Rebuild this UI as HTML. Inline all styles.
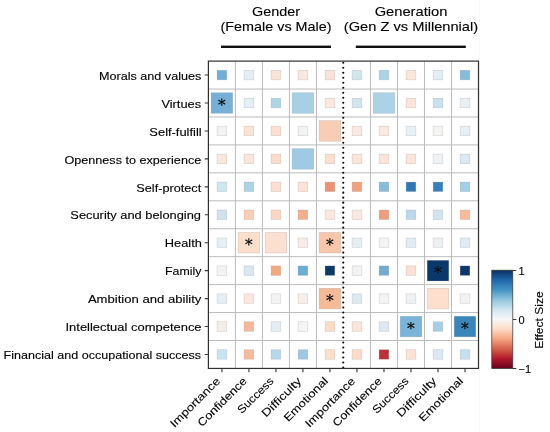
<!DOCTYPE html>
<html><head><meta charset="utf-8"><style>
html,body{margin:0;padding:0;background:#fff;}
#wrap{position:absolute;left:0;top:0;width:550px;height:432px;filter:blur(0.35px);}
body{width:550px;height:432px;position:relative;overflow:hidden;font-family:"Liberation Sans",sans-serif;color:#000;-webkit-text-stroke:0.12px #000;}
.a{position:absolute;}
svg.a{left:0;top:0;}
.yl{position:absolute;right:348.7px;white-space:nowrap;font-size:11px;line-height:14px;height:14px;text-align:right;transform-origin:100% 50%;}
.xw{position:absolute;width:0;height:0;}
.xl{position:absolute;right:0;top:0;white-space:nowrap;font-size:11px;line-height:14px;transform-origin:100% 0;}
.tt{position:absolute;white-space:nowrap;font-size:12.6px;line-height:16px;text-align:center;width:200px;}
</style></head><body><div id="wrap">

<svg class="a" width="550" height="432" viewBox="0 0 550 432"><line x1="479.5" y1="0" x2="479.5" y2="432" stroke="#f9f9f9" stroke-width="1.2"/><line x1="235.41" y1="61.10" x2="235.41" y2="368.44" stroke="#bcbcbc" stroke-width="1"/><line x1="262.42" y1="61.10" x2="262.42" y2="368.44" stroke="#bcbcbc" stroke-width="1"/><line x1="289.43" y1="61.10" x2="289.43" y2="368.44" stroke="#bcbcbc" stroke-width="1"/><line x1="316.44" y1="61.10" x2="316.44" y2="368.44" stroke="#bcbcbc" stroke-width="1"/><line x1="370.46" y1="61.10" x2="370.46" y2="368.44" stroke="#bcbcbc" stroke-width="1"/><line x1="397.47" y1="61.10" x2="397.47" y2="368.44" stroke="#bcbcbc" stroke-width="1"/><line x1="424.48" y1="61.10" x2="424.48" y2="368.44" stroke="#bcbcbc" stroke-width="1"/><line x1="451.49" y1="61.10" x2="451.49" y2="368.44" stroke="#bcbcbc" stroke-width="1"/><line x1="208.40" y1="89.04" x2="478.50" y2="89.04" stroke="#bcbcbc" stroke-width="1"/><line x1="208.40" y1="116.98" x2="478.50" y2="116.98" stroke="#bcbcbc" stroke-width="1"/><line x1="208.40" y1="144.92" x2="478.50" y2="144.92" stroke="#bcbcbc" stroke-width="1"/><line x1="208.40" y1="172.86" x2="478.50" y2="172.86" stroke="#bcbcbc" stroke-width="1"/><line x1="208.40" y1="200.80" x2="478.50" y2="200.80" stroke="#bcbcbc" stroke-width="1"/><line x1="208.40" y1="228.74" x2="478.50" y2="228.74" stroke="#bcbcbc" stroke-width="1"/><line x1="208.40" y1="256.68" x2="478.50" y2="256.68" stroke="#bcbcbc" stroke-width="1"/><line x1="208.40" y1="284.62" x2="478.50" y2="284.62" stroke="#bcbcbc" stroke-width="1"/><line x1="208.40" y1="312.56" x2="478.50" y2="312.56" stroke="#bcbcbc" stroke-width="1"/><line x1="208.40" y1="340.50" x2="478.50" y2="340.50" stroke="#bcbcbc" stroke-width="1"/><rect x="217.06" y="70.32" width="9.70" height="9.50" fill="#6eaed8" stroke="rgba(140,140,140,0.35)" stroke-width="0.6"/><rect x="244.07" y="70.32" width="9.70" height="9.50" fill="#e4eef5" stroke="rgba(140,140,140,0.35)" stroke-width="0.6"/><rect x="271.07" y="70.32" width="9.70" height="9.50" fill="#fbe3d6" stroke="rgba(140,140,140,0.35)" stroke-width="0.6"/><rect x="298.08" y="70.32" width="9.70" height="9.50" fill="#fae8dd" stroke="rgba(140,140,140,0.35)" stroke-width="0.6"/><rect x="325.09" y="70.32" width="9.70" height="9.50" fill="#fae3d6" stroke="rgba(140,140,140,0.35)" stroke-width="0.6"/><rect x="352.11" y="70.32" width="9.70" height="9.50" fill="#d2e6ef" stroke="rgba(140,140,140,0.35)" stroke-width="0.6"/><rect x="379.12" y="70.32" width="9.70" height="9.50" fill="#abd2e6" stroke="rgba(140,140,140,0.35)" stroke-width="0.6"/><rect x="406.12" y="70.32" width="9.70" height="9.50" fill="#fbe6dc" stroke="rgba(140,140,140,0.35)" stroke-width="0.6"/><rect x="433.13" y="70.32" width="9.70" height="9.50" fill="#e2edf4" stroke="rgba(140,140,140,0.35)" stroke-width="0.6"/><rect x="460.14" y="70.32" width="9.70" height="9.50" fill="#85bcdb" stroke="rgba(140,140,140,0.35)" stroke-width="0.6"/><rect x="211.10" y="92.71" width="21.60" height="20.60" fill="#74b0d7" stroke="rgba(140,140,140,0.35)" stroke-width="0.6"/><rect x="244.07" y="98.26" width="9.70" height="9.50" fill="#e4eef5" stroke="rgba(140,140,140,0.35)" stroke-width="0.6"/><rect x="271.07" y="98.26" width="9.70" height="9.50" fill="#aed5e7" stroke="rgba(140,140,140,0.35)" stroke-width="0.6"/><rect x="292.13" y="92.71" width="21.60" height="20.60" fill="#a8d0e5" stroke="rgba(140,140,140,0.35)" stroke-width="0.6"/><rect x="325.09" y="98.26" width="9.70" height="9.50" fill="#fbe8df" stroke="rgba(140,140,140,0.35)" stroke-width="0.6"/><rect x="352.11" y="98.26" width="9.70" height="9.50" fill="#d1e5f0" stroke="rgba(140,140,140,0.35)" stroke-width="0.6"/><rect x="373.17" y="92.71" width="21.60" height="20.60" fill="#acd2e6" stroke="rgba(140,140,140,0.35)" stroke-width="0.6"/><rect x="406.12" y="98.26" width="9.70" height="9.50" fill="#fbe5db" stroke="rgba(140,140,140,0.35)" stroke-width="0.6"/><rect x="433.13" y="98.26" width="9.70" height="9.50" fill="#cae0ee" stroke="rgba(140,140,140,0.35)" stroke-width="0.6"/><rect x="460.14" y="98.26" width="9.70" height="9.50" fill="#e9f0f4" stroke="rgba(140,140,140,0.35)" stroke-width="0.6"/><rect x="217.06" y="126.20" width="9.70" height="9.50" fill="#f3f3f3" stroke="rgba(140,140,140,0.35)" stroke-width="0.6"/><rect x="244.07" y="126.20" width="9.70" height="9.50" fill="#fbe3d6" stroke="rgba(140,140,140,0.35)" stroke-width="0.6"/><rect x="271.07" y="126.20" width="9.70" height="9.50" fill="#fde0cf" stroke="rgba(140,140,140,0.35)" stroke-width="0.6"/><rect x="298.08" y="126.20" width="9.70" height="9.50" fill="#f3f3f3" stroke="rgba(140,140,140,0.35)" stroke-width="0.6"/><rect x="319.14" y="120.65" width="21.60" height="20.60" fill="#f9cdb5" stroke="rgba(140,140,140,0.35)" stroke-width="0.6"/><rect x="352.11" y="126.20" width="9.70" height="9.50" fill="#fbe8df" stroke="rgba(140,140,140,0.35)" stroke-width="0.6"/><rect x="379.12" y="126.20" width="9.70" height="9.50" fill="#fbe9e0" stroke="rgba(140,140,140,0.35)" stroke-width="0.6"/><rect x="406.12" y="126.20" width="9.70" height="9.50" fill="#e8f0f5" stroke="rgba(140,140,140,0.35)" stroke-width="0.6"/><rect x="433.13" y="126.20" width="9.70" height="9.50" fill="#f4f4f3" stroke="rgba(140,140,140,0.35)" stroke-width="0.6"/><rect x="460.14" y="126.20" width="9.70" height="9.50" fill="#e7eff4" stroke="rgba(140,140,140,0.35)" stroke-width="0.6"/><rect x="217.06" y="154.14" width="9.70" height="9.50" fill="#fbe6dc" stroke="rgba(140,140,140,0.35)" stroke-width="0.6"/><rect x="244.07" y="154.14" width="9.70" height="9.50" fill="#fbe6dc" stroke="rgba(140,140,140,0.35)" stroke-width="0.6"/><rect x="271.07" y="154.14" width="9.70" height="9.50" fill="#fcdcc9" stroke="rgba(140,140,140,0.35)" stroke-width="0.6"/><rect x="292.13" y="148.59" width="21.60" height="20.60" fill="#9ecbe3" stroke="rgba(140,140,140,0.35)" stroke-width="0.6"/><rect x="325.09" y="154.14" width="9.70" height="9.50" fill="#fddfcb" stroke="rgba(140,140,140,0.35)" stroke-width="0.6"/><rect x="352.11" y="154.14" width="9.70" height="9.50" fill="#fbe5da" stroke="rgba(140,140,140,0.35)" stroke-width="0.6"/><rect x="379.12" y="154.14" width="9.70" height="9.50" fill="#fbe5da" stroke="rgba(140,140,140,0.35)" stroke-width="0.6"/><rect x="406.12" y="154.14" width="9.70" height="9.50" fill="#fbe5da" stroke="rgba(140,140,140,0.35)" stroke-width="0.6"/><rect x="433.13" y="154.14" width="9.70" height="9.50" fill="#eef2f5" stroke="rgba(140,140,140,0.35)" stroke-width="0.6"/><rect x="460.14" y="154.14" width="9.70" height="9.50" fill="#dce8f2" stroke="rgba(140,140,140,0.35)" stroke-width="0.6"/><rect x="217.06" y="182.08" width="9.70" height="9.50" fill="#cfe7ef" stroke="rgba(140,140,140,0.35)" stroke-width="0.6"/><rect x="244.07" y="182.08" width="9.70" height="9.50" fill="#acd2e6" stroke="rgba(140,140,140,0.35)" stroke-width="0.6"/><rect x="271.07" y="182.08" width="9.70" height="9.50" fill="#fcdfd0" stroke="rgba(140,140,140,0.35)" stroke-width="0.6"/><rect x="298.08" y="182.08" width="9.70" height="9.50" fill="#fbe3d6" stroke="rgba(140,140,140,0.35)" stroke-width="0.6"/><rect x="325.09" y="182.08" width="9.70" height="9.50" fill="#ed9270" stroke="rgba(140,140,140,0.35)" stroke-width="0.6"/><rect x="352.11" y="182.08" width="9.70" height="9.50" fill="#f0a27f" stroke="rgba(140,140,140,0.35)" stroke-width="0.6"/><rect x="379.12" y="182.08" width="9.70" height="9.50" fill="#86bcdc" stroke="rgba(140,140,140,0.35)" stroke-width="0.6"/><rect x="406.12" y="182.08" width="9.70" height="9.50" fill="#2f79b8" stroke="rgba(140,140,140,0.35)" stroke-width="0.6"/><rect x="433.13" y="182.08" width="9.70" height="9.50" fill="#3680bf" stroke="rgba(140,140,140,0.35)" stroke-width="0.6"/><rect x="460.14" y="182.08" width="9.70" height="9.50" fill="#a3cfe6" stroke="rgba(140,140,140,0.35)" stroke-width="0.6"/><rect x="217.06" y="210.02" width="9.70" height="9.50" fill="#d0e3ed" stroke="rgba(140,140,140,0.35)" stroke-width="0.6"/><rect x="244.07" y="210.02" width="9.70" height="9.50" fill="#f9cdb5" stroke="rgba(140,140,140,0.35)" stroke-width="0.6"/><rect x="271.07" y="210.02" width="9.70" height="9.50" fill="#fcd8c4" stroke="rgba(140,140,140,0.35)" stroke-width="0.6"/><rect x="298.08" y="210.02" width="9.70" height="9.50" fill="#f3b08f" stroke="rgba(140,140,140,0.35)" stroke-width="0.6"/><rect x="325.09" y="210.02" width="9.70" height="9.50" fill="#fbe8df" stroke="rgba(140,140,140,0.35)" stroke-width="0.6"/><rect x="352.11" y="210.02" width="9.70" height="9.50" fill="#fae9e2" stroke="rgba(140,140,140,0.35)" stroke-width="0.6"/><rect x="379.12" y="210.02" width="9.70" height="9.50" fill="#f09d7c" stroke="rgba(140,140,140,0.35)" stroke-width="0.6"/><rect x="406.12" y="210.02" width="9.70" height="9.50" fill="#bad9ea" stroke="rgba(140,140,140,0.35)" stroke-width="0.6"/><rect x="433.13" y="210.02" width="9.70" height="9.50" fill="#d2e5ee" stroke="rgba(140,140,140,0.35)" stroke-width="0.6"/><rect x="460.14" y="210.02" width="9.70" height="9.50" fill="#f8bb9c" stroke="rgba(140,140,140,0.35)" stroke-width="0.6"/><rect x="217.06" y="237.96" width="9.70" height="9.50" fill="#e8f0f5" stroke="rgba(140,140,140,0.35)" stroke-width="0.6"/><rect x="238.12" y="232.41" width="21.60" height="20.60" fill="#fddfcc" stroke="rgba(140,140,140,0.35)" stroke-width="0.6"/><rect x="265.12" y="232.41" width="21.60" height="20.60" fill="#fbdfd0" stroke="rgba(140,140,140,0.35)" stroke-width="0.6"/><rect x="298.08" y="237.96" width="9.70" height="9.50" fill="#f8ece6" stroke="rgba(140,140,140,0.35)" stroke-width="0.6"/><rect x="319.14" y="232.41" width="21.60" height="20.60" fill="#f8c7ab" stroke="rgba(140,140,140,0.35)" stroke-width="0.6"/><rect x="352.11" y="237.96" width="9.70" height="9.50" fill="#e6eef3" stroke="rgba(140,140,140,0.35)" stroke-width="0.6"/><rect x="379.12" y="237.96" width="9.70" height="9.50" fill="#f3f3f2" stroke="rgba(140,140,140,0.35)" stroke-width="0.6"/><rect x="406.12" y="237.96" width="9.70" height="9.50" fill="#e0edf4" stroke="rgba(140,140,140,0.35)" stroke-width="0.6"/><rect x="433.13" y="237.96" width="9.70" height="9.50" fill="#eef1f2" stroke="rgba(140,140,140,0.35)" stroke-width="0.6"/><rect x="460.14" y="237.96" width="9.70" height="9.50" fill="#e0ecf4" stroke="rgba(140,140,140,0.35)" stroke-width="0.6"/><rect x="217.06" y="265.90" width="9.70" height="9.50" fill="#f5f3f2" stroke="rgba(140,140,140,0.35)" stroke-width="0.6"/><rect x="244.07" y="265.90" width="9.70" height="9.50" fill="#dae7f0" stroke="rgba(140,140,140,0.35)" stroke-width="0.6"/><rect x="271.07" y="265.90" width="9.70" height="9.50" fill="#f4a880" stroke="rgba(140,140,140,0.35)" stroke-width="0.6"/><rect x="298.08" y="265.90" width="9.70" height="9.50" fill="#6aaed5" stroke="rgba(140,140,140,0.35)" stroke-width="0.6"/><rect x="325.09" y="265.90" width="9.70" height="9.50" fill="#0c3a6a" stroke="rgba(140,140,140,0.35)" stroke-width="0.6"/><rect x="352.11" y="265.90" width="9.70" height="9.50" fill="#f3f3f3" stroke="rgba(140,140,140,0.35)" stroke-width="0.6"/><rect x="379.12" y="265.90" width="9.70" height="9.50" fill="#74accf" stroke="rgba(140,140,140,0.35)" stroke-width="0.6"/><rect x="406.12" y="265.90" width="9.70" height="9.50" fill="#fbe1d3" stroke="rgba(140,140,140,0.35)" stroke-width="0.6"/><rect x="427.19" y="260.35" width="21.60" height="20.60" fill="#0b386a" stroke="rgba(140,140,140,0.35)" stroke-width="0.6"/><rect x="460.14" y="265.90" width="9.70" height="9.50" fill="#0d366a" stroke="rgba(140,140,140,0.35)" stroke-width="0.6"/><rect x="217.06" y="293.84" width="9.70" height="9.50" fill="#e6eef4" stroke="rgba(140,140,140,0.35)" stroke-width="0.6"/><rect x="244.07" y="293.84" width="9.70" height="9.50" fill="#fae6dc" stroke="rgba(140,140,140,0.35)" stroke-width="0.6"/><rect x="271.07" y="293.84" width="9.70" height="9.50" fill="#f3f3f3" stroke="rgba(140,140,140,0.35)" stroke-width="0.6"/><rect x="298.08" y="293.84" width="9.70" height="9.50" fill="#f7efe9" stroke="rgba(140,140,140,0.35)" stroke-width="0.6"/><rect x="319.14" y="288.29" width="21.60" height="20.60" fill="#f5ba96" stroke="rgba(140,140,140,0.35)" stroke-width="0.6"/><rect x="352.11" y="293.84" width="9.70" height="9.50" fill="#dce9f2" stroke="rgba(140,140,140,0.35)" stroke-width="0.6"/><rect x="379.12" y="293.84" width="9.70" height="9.50" fill="#f3f3f3" stroke="rgba(140,140,140,0.35)" stroke-width="0.6"/><rect x="406.12" y="293.84" width="9.70" height="9.50" fill="#eff2f4" stroke="rgba(140,140,140,0.35)" stroke-width="0.6"/><rect x="427.19" y="288.29" width="21.60" height="20.60" fill="#fedfcd" stroke="rgba(140,140,140,0.35)" stroke-width="0.6"/><rect x="460.14" y="293.84" width="9.70" height="9.50" fill="#f2f3f2" stroke="rgba(140,140,140,0.35)" stroke-width="0.6"/><rect x="217.06" y="321.78" width="9.70" height="9.50" fill="#f5ede8" stroke="rgba(140,140,140,0.35)" stroke-width="0.6"/><rect x="244.07" y="321.78" width="9.70" height="9.50" fill="#f5b89a" stroke="rgba(140,140,140,0.35)" stroke-width="0.6"/><rect x="271.07" y="321.78" width="9.70" height="9.50" fill="#e3eef4" stroke="rgba(140,140,140,0.35)" stroke-width="0.6"/><rect x="298.08" y="321.78" width="9.70" height="9.50" fill="#f3f4f3" stroke="rgba(140,140,140,0.35)" stroke-width="0.6"/><rect x="325.09" y="321.78" width="9.70" height="9.50" fill="#fcdcc6" stroke="rgba(140,140,140,0.35)" stroke-width="0.6"/><rect x="352.11" y="321.78" width="9.70" height="9.50" fill="#fbe4d9" stroke="rgba(140,140,140,0.35)" stroke-width="0.6"/><rect x="379.12" y="321.78" width="9.70" height="9.50" fill="#ddeaf3" stroke="rgba(140,140,140,0.35)" stroke-width="0.6"/><rect x="400.18" y="316.23" width="21.60" height="20.60" fill="#7ab4d8" stroke="rgba(140,140,140,0.35)" stroke-width="0.6"/><rect x="433.13" y="321.78" width="9.70" height="9.50" fill="#a8cde6" stroke="rgba(140,140,140,0.35)" stroke-width="0.6"/><rect x="454.19" y="316.23" width="21.60" height="20.60" fill="#3a86bb" stroke="rgba(140,140,140,0.35)" stroke-width="0.6"/><rect x="217.06" y="349.72" width="9.70" height="9.50" fill="#c7e4f0" stroke="rgba(140,140,140,0.35)" stroke-width="0.6"/><rect x="244.07" y="349.72" width="9.70" height="9.50" fill="#f5bb9c" stroke="rgba(140,140,140,0.35)" stroke-width="0.6"/><rect x="271.07" y="349.72" width="9.70" height="9.50" fill="#b6d8ea" stroke="rgba(140,140,140,0.35)" stroke-width="0.6"/><rect x="298.08" y="349.72" width="9.70" height="9.50" fill="#9fc8e4" stroke="rgba(140,140,140,0.35)" stroke-width="0.6"/><rect x="325.09" y="349.72" width="9.70" height="9.50" fill="#fde0cb" stroke="rgba(140,140,140,0.35)" stroke-width="0.6"/><rect x="352.11" y="349.72" width="9.70" height="9.50" fill="#fddbc8" stroke="rgba(140,140,140,0.35)" stroke-width="0.6"/><rect x="379.12" y="349.72" width="9.70" height="9.50" fill="#bf2f38" stroke="rgba(140,140,140,0.35)" stroke-width="0.6"/><rect x="406.12" y="349.72" width="9.70" height="9.50" fill="#fbe3d6" stroke="rgba(140,140,140,0.35)" stroke-width="0.6"/><rect x="433.13" y="349.72" width="9.70" height="9.50" fill="#dbe9f2" stroke="rgba(140,140,140,0.35)" stroke-width="0.6"/><rect x="460.14" y="349.72" width="9.70" height="9.50" fill="#c8e0ed" stroke="rgba(140,140,140,0.35)" stroke-width="0.6"/><path d="M222.18 102.11L222.48 98.51L221.13 98.51L221.43 102.11ZM221.43 102.11L221.13 105.71L222.48 105.71L222.18 102.11ZM221.99 102.43L225.52 100.74L224.84 99.58L221.62 101.79ZM221.99 101.79L218.77 99.58L218.09 100.74L221.62 102.43ZM221.62 101.79L218.09 103.48L218.77 104.64L221.99 102.43ZM221.62 102.43L224.84 104.64L225.52 103.48L221.99 101.79ZM249.19 241.81L249.49 238.21L248.14 238.21L248.44 241.81ZM248.44 241.81L248.14 245.41L249.49 245.41L249.19 241.81ZM249.00 242.13L252.53 240.44L251.85 239.28L248.63 241.49ZM249.00 241.49L245.78 239.28L245.10 240.44L248.63 242.13ZM248.63 241.49L245.10 243.18L245.78 244.34L249.00 242.13ZM248.63 242.13L251.85 244.34L252.53 243.18L249.00 241.49ZM330.22 241.81L330.52 238.21L329.17 238.21L329.47 241.81ZM329.47 241.81L329.17 245.41L330.52 245.41L330.22 241.81ZM330.03 242.13L333.56 240.44L332.88 239.28L329.66 241.49ZM330.03 241.49L326.81 239.28L326.13 240.44L329.66 242.13ZM329.66 241.49L326.13 243.18L326.81 244.34L330.03 242.13ZM329.66 242.13L332.88 244.34L333.56 243.18L330.03 241.49ZM438.26 269.75L438.56 266.15L437.21 266.15L437.51 269.75ZM437.51 269.75L437.21 273.35L438.56 273.35L438.26 269.75ZM438.07 270.07L441.60 268.38L440.92 267.22L437.70 269.43ZM438.07 269.43L434.85 267.22L434.17 268.38L437.70 270.07ZM437.70 269.43L434.17 271.12L434.85 272.28L438.07 270.07ZM437.70 270.07L440.92 272.28L441.60 271.12L438.07 269.43ZM330.22 297.69L330.52 294.09L329.17 294.09L329.47 297.69ZM329.47 297.69L329.17 301.29L330.52 301.29L330.22 297.69ZM330.03 298.01L333.56 296.32L332.88 295.16L329.66 297.37ZM330.03 297.37L326.81 295.16L326.13 296.32L329.66 298.01ZM329.66 297.37L326.13 299.06L326.81 300.22L330.03 298.01ZM329.66 298.01L332.88 300.22L333.56 299.06L330.03 297.37ZM411.25 325.63L411.55 322.03L410.20 322.03L410.50 325.63ZM410.50 325.63L410.20 329.23L411.55 329.23L411.25 325.63ZM411.06 325.95L414.59 324.26L413.91 323.10L410.69 325.31ZM411.06 325.31L407.84 323.10L407.16 324.26L410.69 325.95ZM410.69 325.31L407.16 327.00L407.84 328.16L411.06 325.95ZM410.69 325.95L413.91 328.16L414.59 327.00L411.06 325.31ZM465.27 325.63L465.57 322.03L464.22 322.03L464.52 325.63ZM464.52 325.63L464.22 329.23L465.57 329.23L465.27 325.63ZM465.08 325.95L468.61 324.26L467.93 323.10L464.71 325.31ZM465.08 325.31L461.86 323.10L461.18 324.26L464.71 325.95ZM464.71 325.31L461.18 327.00L461.86 328.16L465.08 325.95ZM464.71 325.95L467.93 328.16L468.61 327.00L465.08 325.31Z" fill="#0d0d0d"/><circle cx="343.25" cy="62.80" r="1.05" fill="#000"/><circle cx="343.25" cy="67.80" r="1.05" fill="#000"/><circle cx="343.25" cy="72.79" r="1.05" fill="#000"/><circle cx="343.25" cy="77.79" r="1.05" fill="#000"/><circle cx="343.25" cy="82.78" r="1.05" fill="#000"/><circle cx="343.25" cy="87.78" r="1.05" fill="#000"/><circle cx="343.25" cy="92.77" r="1.05" fill="#000"/><circle cx="343.25" cy="97.77" r="1.05" fill="#000"/><circle cx="343.25" cy="102.76" r="1.05" fill="#000"/><circle cx="343.25" cy="107.76" r="1.05" fill="#000"/><circle cx="343.25" cy="112.75" r="1.05" fill="#000"/><circle cx="343.25" cy="117.75" r="1.05" fill="#000"/><circle cx="343.25" cy="122.74" r="1.05" fill="#000"/><circle cx="343.25" cy="127.74" r="1.05" fill="#000"/><circle cx="343.25" cy="132.73" r="1.05" fill="#000"/><circle cx="343.25" cy="137.73" r="1.05" fill="#000"/><circle cx="343.25" cy="142.72" r="1.05" fill="#000"/><circle cx="343.25" cy="147.72" r="1.05" fill="#000"/><circle cx="343.25" cy="152.71" r="1.05" fill="#000"/><circle cx="343.25" cy="157.71" r="1.05" fill="#000"/><circle cx="343.25" cy="162.70" r="1.05" fill="#000"/><circle cx="343.25" cy="167.70" r="1.05" fill="#000"/><circle cx="343.25" cy="172.69" r="1.05" fill="#000"/><circle cx="343.25" cy="177.69" r="1.05" fill="#000"/><circle cx="343.25" cy="182.68" r="1.05" fill="#000"/><circle cx="343.25" cy="187.68" r="1.05" fill="#000"/><circle cx="343.25" cy="192.67" r="1.05" fill="#000"/><circle cx="343.25" cy="197.67" r="1.05" fill="#000"/><circle cx="343.25" cy="202.66" r="1.05" fill="#000"/><circle cx="343.25" cy="207.66" r="1.05" fill="#000"/><circle cx="343.25" cy="212.65" r="1.05" fill="#000"/><circle cx="343.25" cy="217.65" r="1.05" fill="#000"/><circle cx="343.25" cy="222.64" r="1.05" fill="#000"/><circle cx="343.25" cy="227.64" r="1.05" fill="#000"/><circle cx="343.25" cy="232.63" r="1.05" fill="#000"/><circle cx="343.25" cy="237.63" r="1.05" fill="#000"/><circle cx="343.25" cy="242.62" r="1.05" fill="#000"/><circle cx="343.25" cy="247.62" r="1.05" fill="#000"/><circle cx="343.25" cy="252.61" r="1.05" fill="#000"/><circle cx="343.25" cy="257.61" r="1.05" fill="#000"/><circle cx="343.25" cy="262.60" r="1.05" fill="#000"/><circle cx="343.25" cy="267.60" r="1.05" fill="#000"/><circle cx="343.25" cy="272.59" r="1.05" fill="#000"/><circle cx="343.25" cy="277.59" r="1.05" fill="#000"/><circle cx="343.25" cy="282.58" r="1.05" fill="#000"/><circle cx="343.25" cy="287.58" r="1.05" fill="#000"/><circle cx="343.25" cy="292.57" r="1.05" fill="#000"/><circle cx="343.25" cy="297.57" r="1.05" fill="#000"/><circle cx="343.25" cy="302.56" r="1.05" fill="#000"/><circle cx="343.25" cy="307.56" r="1.05" fill="#000"/><circle cx="343.25" cy="312.55" r="1.05" fill="#000"/><circle cx="343.25" cy="317.55" r="1.05" fill="#000"/><circle cx="343.25" cy="322.54" r="1.05" fill="#000"/><circle cx="343.25" cy="327.54" r="1.05" fill="#000"/><circle cx="343.25" cy="332.53" r="1.05" fill="#000"/><circle cx="343.25" cy="337.53" r="1.05" fill="#000"/><circle cx="343.25" cy="342.52" r="1.05" fill="#000"/><circle cx="343.25" cy="347.52" r="1.05" fill="#000"/><circle cx="343.25" cy="352.51" r="1.05" fill="#000"/><circle cx="343.25" cy="357.51" r="1.05" fill="#000"/><circle cx="343.25" cy="362.50" r="1.05" fill="#000"/><circle cx="343.25" cy="367.50" r="1.05" fill="#000"/><rect x="208.40" y="61.10" width="270.10" height="307.34" fill="none" stroke="#303030" stroke-width="1.2"/><path d="M204.70 75.07H208.40M204.70 103.01H208.40M204.70 130.95H208.40M204.70 158.89H208.40M204.70 186.83H208.40M204.70 214.77H208.40M204.70 242.71H208.40M204.70 270.65H208.40M204.70 298.59H208.40M204.70 326.53H208.40M204.70 354.47H208.40M221.91 368.44V372.14M248.92 368.44V372.14M275.93 368.44V372.14M302.94 368.44V372.14M329.94 368.44V372.14M356.96 368.44V372.14M383.97 368.44V372.14M410.98 368.44V372.14M437.99 368.44V372.14M465.00 368.44V372.14M512.8 270.50H516.3M512.8 319.50H516.3M512.8 368.50H516.3" stroke="#3a3a3a" stroke-width="1.1" fill="none"/><rect x="221.00" y="45.6" width="110" height="2.4" fill="#111"/><rect x="355.80" y="45.6" width="110" height="2.4" fill="#111"/><defs><linearGradient id="cb" x1="0" y1="0" x2="0" y2="1"><stop offset="0" stop-color="#053061"/><stop offset="0.1" stop-color="#2166ac"/><stop offset="0.2" stop-color="#4393c3"/><stop offset="0.3" stop-color="#92c5de"/><stop offset="0.4" stop-color="#d1e5f0"/><stop offset="0.5" stop-color="#f7f7f7"/><stop offset="0.6" stop-color="#fddbc7"/><stop offset="0.7" stop-color="#f4a582"/><stop offset="0.8" stop-color="#d6604d"/><stop offset="0.9" stop-color="#b2182b"/><stop offset="1.0" stop-color="#67001f"/></linearGradient></defs><rect x="491.8" y="270.2" width="21" height="98.3" fill="url(#cb)" stroke="#3a3a3a" stroke-width="0.75"/></svg>
<div class="yl" style="top:68.77px;transform:scaleX(1.1458)">Morals and values</div>
<div class="yl" style="top:96.71px;transform:scaleX(1.1638)">Virtues</div>
<div class="yl" style="top:124.65px;transform:scaleX(1.1709)">Self-fulfill</div>
<div class="yl" style="top:152.59px;transform:scaleX(1.1474)">Openness to experience</div>
<div class="yl" style="top:180.53px;transform:scaleX(1.1546)">Self-protect</div>
<div class="yl" style="top:208.47px;transform:scaleX(1.1666)">Security and belonging</div>
<div class="yl" style="top:236.41px;transform:scaleX(1.1628)">Health</div>
<div class="yl" style="top:264.35px;transform:scaleX(1.1221)">Family</div>
<div class="yl" style="top:292.29px;transform:scaleX(1.1900)">Ambition and ability</div>
<div class="yl" style="top:320.23px;transform:scaleX(1.1776)">Intellectual competence</div>
<div class="yl" style="top:348.17px;transform:scaleX(1.1411)">Financial and occupational success</div>
<div class="xw" style="left:212.91px;top:374.00px"><div class="xl" style="transform:rotate(-45deg) scaleX(1.1898)">Importance</div></div>
<div class="xw" style="left:239.92px;top:374.00px"><div class="xl" style="transform:rotate(-45deg) scaleX(1.1531)">Confidence</div></div>
<div class="xw" style="left:266.93px;top:374.00px"><div class="xl" style="transform:rotate(-45deg) scaleX(1.1068)">Success</div></div>
<div class="xw" style="left:293.94px;top:374.00px"><div class="xl" style="transform:rotate(-45deg) scaleX(1.2315)">Difficulty</div></div>
<div class="xw" style="left:320.94px;top:374.00px"><div class="xl" style="transform:rotate(-45deg) scaleX(1.1712)">Emotional</div></div>
<div class="xw" style="left:347.96px;top:374.00px"><div class="xl" style="transform:rotate(-45deg) scaleX(1.1898)">Importance</div></div>
<div class="xw" style="left:374.97px;top:374.00px"><div class="xl" style="transform:rotate(-45deg) scaleX(1.1531)">Confidence</div></div>
<div class="xw" style="left:401.98px;top:374.00px"><div class="xl" style="transform:rotate(-45deg) scaleX(1.1068)">Success</div></div>
<div class="xw" style="left:428.99px;top:374.00px"><div class="xl" style="transform:rotate(-45deg) scaleX(1.2315)">Difficulty</div></div>
<div class="xw" style="left:456.00px;top:374.00px"><div class="xl" style="transform:rotate(-45deg) scaleX(1.1712)">Emotional</div></div>
<div class="tt" style="left:176.00px;top:3.5px;transform:scaleX(1.1442)">Gender</div>
<div class="tt" style="left:176.00px;top:18.7px;transform:scaleX(1.1417)">(Female vs Male)</div>
<div class="tt" style="left:310.80px;top:3.5px;transform:scaleX(1.1675)">Generation</div>
<div class="tt" style="left:310.80px;top:18.7px;transform:scaleX(1.1633)">(Gen Z vs Millennial)</div>
<div class="a" style="left:518.5px;top:263.80px;font-size:11px;line-height:14px;white-space:nowrap">1</div>
<div class="a" style="left:518.5px;top:312.80px;font-size:11px;line-height:14px;white-space:nowrap">0</div>
<div class="a" style="left:518.5px;top:361.80px;font-size:11px;line-height:14px;white-space:nowrap">−1</div>
<div class="a" style="left:509.4px;top:313.4px;width:60px;text-align:center;font-size:11px;line-height:14px;white-space:nowrap;transform:rotate(-90deg) scaleX(1.0979)">Effect Size</div>
</div></body></html>
